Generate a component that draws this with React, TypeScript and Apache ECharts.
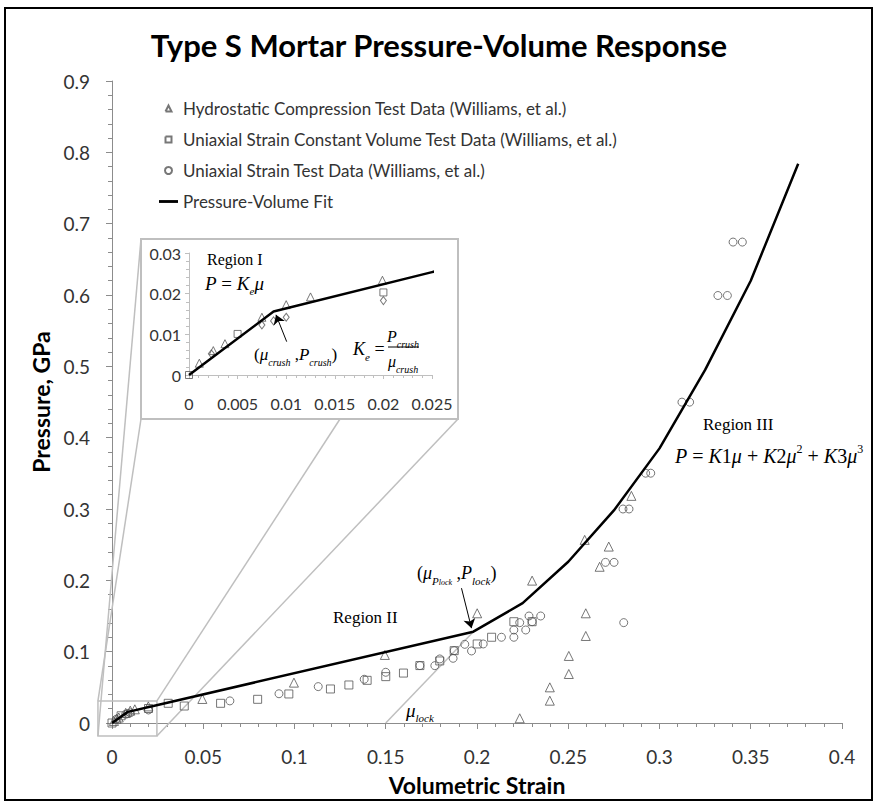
import React, { useEffect, useRef } from "react";
import * as echarts from "echarts";

// ---------- data (volumetric strain, pressure GPa) ----------
const hydroLow: number[][] = [
  [0.00106, 0.0029], [0.0025, 0.006], [0.0037, 0.0077], [0.0075, 0.0142],
  [0.01, 0.0173], [0.0125, 0.0192], [0.0199, 0.0233],
];
const hydroHigh: number[][] = [
  [0.0495, 0.0337], [0.0997, 0.0566], [0.1495, 0.0954], [0.2001, 0.1538],
  [0.2234, 0.0066], [0.2302, 0.1996], [0.2399, 0.05], [0.2399, 0.0313],
  [0.2503, 0.094], [0.2503, 0.0687], [0.2596, 0.1538], [0.2596, 0.122],
  [0.259, 0.2567], [0.2672, 0.219], [0.2722, 0.2473], [0.2846, 0.3184],
];
const constVolLow: number[][] = [[0, 0], [0.005, 0.0101], [0.02, 0.0203]];
const constVolHigh: number[][] = [
  [0.0308, 0.0276], [0.0396, 0.0238], [0.0595, 0.0276], [0.0798, 0.0332],
  [0.0969, 0.0407], [0.1197, 0.0477], [0.1298, 0.0533], [0.1398, 0.0598],
  [0.15, 0.065], [0.1597, 0.07], [0.1687, 0.0805], [0.1796, 0.087],
  [0.1875, 0.1014], [0.2001, 0.1108], [0.208, 0.1202], [0.2202, 0.142],
  [0.2302, 0.142],
];
const uniaxialLow: number[][] = [
  [0.0023, 0.0052], [0.0075, 0.0123], [0.0087, 0.0133], [0.01, 0.0142], [0.02, 0.0183],
];
const uniaxialHigh: number[][] = [
  [0.0646, 0.031], [0.0915, 0.041], [0.113, 0.051], [0.1382, 0.0613],
  [0.15, 0.0711], [0.1687, 0.0805], [0.1769, 0.0804], [0.1796, 0.0898],
  [0.1869, 0.0907], [0.1875, 0.1014], [0.1933, 0.1103], [0.197, 0.101],
  [0.2034, 0.1108], [0.2134, 0.1202], [0.2202, 0.1202], [0.2202, 0.1304],
  [0.2234, 0.1407], [0.2267, 0.1304], [0.2285, 0.15], [0.2302, 0.142],
  [0.2349, 0.15], [0.2804, 0.1407], [0.2704, 0.2252], [0.2751, 0.2252],
  [0.28, 0.3], [0.2833, 0.3], [0.2924, 0.3502], [0.2952, 0.3502],
  [0.3123, 0.4498], [0.3165, 0.4498], [0.332, 0.5993], [0.3372, 0.5993],
  [0.3403, 0.6742], [0.3454, 0.6742],
];
const fitLine: number[][] = [
  [0, 0], [0.0087, 0.0156], [0.025, 0.0253], [0.198, 0.128], [0.225, 0.168],
  [0.25, 0.226], [0.275, 0.298], [0.3, 0.385], [0.325, 0.495], [0.35, 0.62],
  [0.376, 0.784],
];
const muLockLine: number[][] = [[0.15, 0], [0.198, 0.128]];
const pLockArrow: number[][] = [[0.1915, 0.189], [0.197, 0.133]];
const crushArrow: number[][] = [[0.01005, 0.0082], [0.00895, 0.0148]];
const zoomBoxX = [-0.0077, 0.0246];
const zoomBoxY = [-0.0182, 0.0309];

const seriesNames = [
  "Hydrostatic Compression Test Data (Williams, et al.)",
  "Uniaxial Strain Constant Volume Test Data (Williams, et al.)",
  "Uniaxial Strain Test Data (Williams, et al.)",
  "Pressure-Volume Fit",
];

const sans = "Lato, 'Open Sans', sans-serif";
const serif = "'Liberation Serif', 'Times New Roman', serif";
const axisGray = "#8c8c8c";
const insetGray = "#bfbfbf";
const labelColor = "#333333";
const markerColor = "#555555";

const fmt = (v: number) => String(+(+v).toFixed(4));

const hollow = { color: "rgba(0,0,0,0)", borderColor: markerColor, borderWidth: 1 };

// legend icons: small symbol centred in a 19x7 box (the stray moveTo points fix the box)
const iconTriangle = "path://M0 3.5M6.5 6.5L9.5 0.5L12.5 6.5L6.5 6.5M19 3.5";
const iconSquare = "path://M0 3.5M6.5 0.5L12.5 0.5L12.5 6.5L6.5 6.5L6.5 0.5M19 3.5";
const iconLine = "path://M0 0L20 0L20 3L0 3Z";

function buildOption(): any {
  const mainAxisCommon = {
    type: "value",
    axisLine: { onZero: false, lineStyle: { color: axisGray, width: 1 } },
    axisTick: { length: 6, lineStyle: { color: axisGray } },
    minorTick: { show: true, splitNumber: 5, length: 4, lineStyle: { color: axisGray } },
    splitLine: { show: false },
    minorSplitLine: { show: false },
  };
  const insetAxisCommon = {
    type: "value",
    axisLine: { onZero: false, lineStyle: { color: insetGray, width: 1 } },
    axisTick: { length: 4, lineStyle: { color: insetGray } },
    minorTick: { show: true, splitNumber: 5, length: 3, lineStyle: { color: insetGray } },
    splitLine: { show: false },
  };
  return {
    animation: false,
    backgroundColor: "#ffffff",
    title: {
      text: "Type S Mortar Pressure-Volume Response",
      left: "center",
      top: 24,
      textStyle: { fontFamily: sans, fontSize: 31, fontWeight: "bold", color: "#000" },
    },
    legend: {
      orient: "vertical",
      left: 158,
      top: 100,
      padding: 0,
      itemWidth: 19,
      itemHeight: 7,
      itemGap: 14,
      selectedMode: false,
      data: [
        { name: seriesNames[0], icon: iconTriangle },
        { name: seriesNames[1], icon: iconSquare },
        { name: seriesNames[2], icon: "circle" },
        { name: seriesNames[3], icon: iconLine, itemStyle: { color: "#000" } },
      ],
      textStyle: { fontFamily: sans, fontSize: 17, color: labelColor, lineHeight: 17 },
    },
    grid: [
      { left: 112, top: 81, width: 730, height: 642 },
      { left: 189, top: 253, width: 243, height: 122 },
    ],
    xAxis: [
      {
        ...mainAxisCommon,
        gridIndex: 0,
        min: 0,
        max: 0.4,
        interval: 0.05,
        axisLabel: { fontFamily: sans, fontSize: 19, color: labelColor, margin: 24, formatter: fmt },
        name: "Volumetric Strain",
        nameLocation: "middle",
        nameGap: 50,
        nameTextStyle: { fontFamily: sans, fontSize: 23, fontWeight: "bold", color: "#000" },
      },
      {
        ...insetAxisCommon,
        gridIndex: 1,
        min: 0,
        max: 0.025,
        interval: 0.005,
        axisLabel: { fontFamily: sans, fontSize: 16, color: labelColor, margin: 20, formatter: fmt },
      },
    ],
    yAxis: [
      {
        ...mainAxisCommon,
        gridIndex: 0,
        min: 0,
        max: 0.9,
        interval: 0.1,
        axisLabel: { fontFamily: sans, fontSize: 19, color: labelColor, margin: 22, formatter: fmt },
        name: "Pressure, GPa",
        nameLocation: "middle",
        nameGap: 60,
        nameRotate: 90,
        nameTextStyle: { fontFamily: sans, fontSize: 23, fontWeight: "bold", color: "#000" },
      },
      {
        ...insetAxisCommon,
        gridIndex: 1,
        min: 0,
        max: 0.03,
        interval: 0.01,
        axisLabel: { fontFamily: sans, fontSize: 16, color: labelColor, margin: 8, formatter: fmt },
      },
    ],
    series: [
      {
        name: seriesNames[0], type: "scatter", xAxisIndex: 0, yAxisIndex: 0,
        symbol: "triangle", symbolSize: 9, itemStyle: hollow, z: 3,
        data: [...hydroLow, ...hydroHigh],
      },
      {
        name: seriesNames[1], type: "scatter", xAxisIndex: 0, yAxisIndex: 0,
        symbol: "rect", symbolSize: 8, itemStyle: hollow, z: 3,
        data: [...constVolLow, ...constVolHigh],
      },
      {
        name: seriesNames[2], type: "scatter", xAxisIndex: 0, yAxisIndex: 0,
        symbol: "circle", symbolSize: 8, itemStyle: hollow, z: 3,
        data: [...uniaxialLow, ...uniaxialHigh],
      },
      {
        name: seriesNames[3], type: "line", xAxisIndex: 0, yAxisIndex: 0,
        symbol: "none", lineStyle: { color: "#000", width: 2.5 }, itemStyle: { color: "#000" }, z: 4,
        data: fitLine,
        markLine: {
          silent: true, symbol: ["none", "arrow"], symbolSize: 9, label: { show: false },
          lineStyle: { color: "#000", width: 1, type: "solid" },
          data: [[{ coord: pLockArrow[0] }, { coord: pLockArrow[1] }]],
        },
      },
      {
        name: "mu-lock", type: "line", xAxisIndex: 0, yAxisIndex: 0, symbol: "none",
        lineStyle: { color: insetGray, width: 1.5 }, z: 2, data: muLockLine,
      },
      {
        name: "inset-hydro", type: "scatter", xAxisIndex: 1, yAxisIndex: 1,
        symbol: "triangle", symbolSize: 8, itemStyle: hollow, z: 3, data: hydroLow,
      },
      {
        name: "inset-constvol", type: "scatter", xAxisIndex: 1, yAxisIndex: 1,
        symbol: "rect", symbolSize: 7, itemStyle: hollow, z: 3, data: constVolLow,
      },
      {
        name: "inset-uniaxial", type: "scatter", xAxisIndex: 1, yAxisIndex: 1,
        symbol: "diamond", symbolSize: [6, 8], itemStyle: hollow, z: 3, data: uniaxialLow,
      },
      {
        name: "inset-fit", type: "line", xAxisIndex: 1, yAxisIndex: 1, symbol: "none",
        lineStyle: { color: "#000", width: 2.5 }, z: 4, data: fitLine,
        markLine: {
          silent: true, symbol: ["none", "arrow"], symbolSize: 9, label: { show: false },
          lineStyle: { color: "#000", width: 1, type: "solid" },
          data: [[{ coord: crushArrow[0] }, { coord: crushArrow[1] }]],
        },
      },
    ],
  };
}

function mathText(x: number, y: number, text: string, size: number, align = "left") {
  return {
    type: "text",
    x,
    y,
    z: 10,
    style: {
      text,
      fontFamily: serif,
      fontSize: size,
      fill: "#000",
      align,
      verticalAlign: "middle",
      lineHeight: 26,
      rich: {
        i: { fontFamily: serif, fontSize: size, fontStyle: "italic", lineHeight: 26 },
        sub: { fontFamily: serif, fontSize: Math.round(size * 0.6), fontStyle: "italic", verticalAlign: "bottom", lineHeight: 16 },
        subsub: { fontFamily: serif, fontSize: Math.round(size * 0.45), fontStyle: "italic", verticalAlign: "bottom", lineHeight: 9 },
        sup: { fontFamily: serif, fontSize: Math.round(size * 0.6), verticalAlign: "top", lineHeight: 14 },
      },
    },
  };
}

export default function App() {
  const ref = useRef<HTMLDivElement>(null);
  useEffect(() => {
    document.body.style.margin = "0";
    const chart = echarts.init(ref.current as HTMLDivElement, null, { renderer: "svg" });
    chart.setOption(buildOption());

    const tl = chart.convertToPixel({ gridIndex: 0 } as any, [zoomBoxX[0], zoomBoxY[1]]) as number[];
    const br = chart.convertToPixel({ gridIndex: 0 } as any, [zoomBoxX[1], zoomBoxY[0]]) as number[];
    const inset = { l: 141, t: 239, r: 458, b: 419 };
    const grayLine = (x1: number, y1: number, x2: number, y2: number) => ({
      type: "line", z: 1, shape: { x1, y1, x2, y2 },
      style: { stroke: insetGray, lineWidth: 1.5 },
    });

    chart.setOption({
      graphic: [
        { type: "rect", z: 20, shape: { x: 5, y: 8, width: 867, height: 792 }, style: { fill: "none", stroke: "#000", lineWidth: 2 } },
        { type: "rect", z: 1, shape: { x: inset.l, y: inset.t, width: inset.r - inset.l, height: inset.b - inset.t }, style: { fill: "none", stroke: insetGray, lineWidth: 2 } },
        { type: "rect", z: 1, shape: { x: tl[0], y: tl[1], width: br[0] - tl[0], height: br[1] - tl[1] }, style: { fill: "none", stroke: insetGray, lineWidth: 1.5 } },
        grayLine(tl[0], tl[1], inset.l, inset.b),
        grayLine(tl[0], br[1], inset.l, inset.t),
        grayLine(br[0], tl[1], 340, inset.b),
        grayLine(br[0], br[1], inset.r, inset.b),
        mathText(333, 617, "Region II", 17),
        mathText(417, 573, "({i|μ}{sub|P}{subsub|lock} ,{i|P}{sub|lock})", 18),
        mathText(406, 710, "{i|μ}{sub|lock}", 19),
        mathText(703, 424, "Region III", 17),
        mathText(675, 456, "{i|P} = {i|K}1{i|μ} + {i|K}2{i|μ}{sup|2} + {i|K}3{i|μ}{sup|3}", 20),
        mathText(207, 259, "Region I", 16),
        mathText(205, 283, "{i|P} = {i|K}{sub|e}{i|μ}", 19),
        mathText(254, 354, "({i|μ}{sub|crush} ,{i|P}{sub|crush})", 17),
        mathText(353, 349, "{i|K}{sub|e} =", 18),
        mathText(403, 336, "{i|P}{sub|crush}", 16, "center"),
        { type: "line", z: 10, shape: { x1: 388, y1: 347, x2: 419, y2: 347 }, style: { stroke: "#000", lineWidth: 1 } },
        mathText(403, 361, "{i|μ}{sub|crush}", 16, "center"),
      ],
    });
    return () => chart.dispose();
  }, []);
  return <div ref={ref} style={{ width: 878, height: 806 }} />;
}
